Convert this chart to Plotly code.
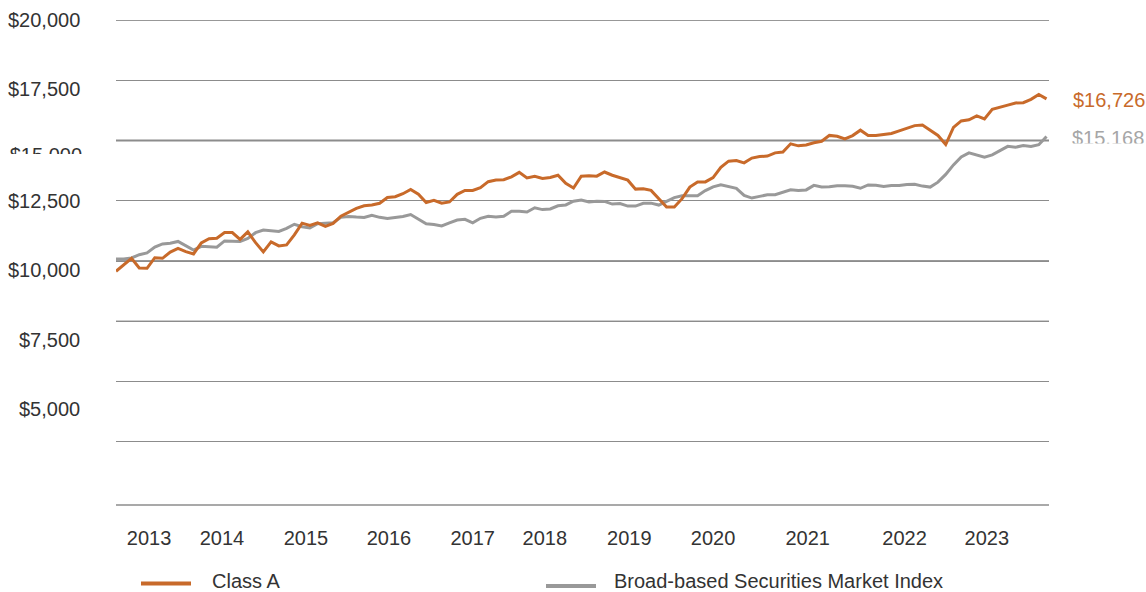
import plotly.graph_objects as go

# ---------------- data ----------------
months = list(range(121))  # monthly observations, first to last

class_a = [
    9575, 9846, 10112, 9708, 9696, 10137, 10112, 10371, 10521, 10387,
    10292, 10750, 10925, 10946, 11179, 11179, 10896, 11208, 10762, 10375,
    10792, 10625, 10667, 11083, 11571, 11479, 11583, 11437, 11562, 11862,
    12042, 12187, 12292, 12321, 12396, 12633, 12667, 12792, 12971, 12771,
    12425, 12521, 12396, 12450, 12767, 12929, 12929, 13046, 13292, 13358,
    13371, 13492, 13679, 13446, 13512, 13421, 13467, 13558, 13225, 13029,
    13521, 13542, 13521, 13692, 13558, 13458, 13354, 12983, 13000, 12929,
    12571, 12237, 12237, 12587, 13067, 13279, 13283, 13458, 13888, 14142,
    14167, 14071, 14271, 14333, 14354, 14487, 14525, 14862, 14779, 14812,
    14904, 14967, 15212, 15175, 15067, 15204, 15429, 15208, 15204, 15233,
    15292, 15400, 15508, 15617, 15646, 15417, 15208, 14833, 15542, 15812,
    15862, 16021, 15896, 16292, 16367, 16467, 16558, 16571, 16708, 16908,
    16726,
]

market_index = [
    10083, 10083, 10125, 10262, 10333, 10575, 10708, 10733, 10812, 10646,
    10450, 10608, 10587, 10571, 10833, 10817, 10808, 10933, 11175, 11283,
    11267, 11229, 11354, 11525, 11425, 11375, 11550, 11583, 11587, 11812,
    11846, 11821, 11804, 11896, 11812, 11762, 11800, 11846, 11929, 11750,
    11542, 11517, 11458, 11583, 11700, 11729, 11583, 11771, 11858, 11825,
    11858, 12062, 12067, 12033, 12208, 12133, 12158, 12292, 12325, 12479,
    12529, 12450, 12483, 12471, 12362, 12383, 12279, 12279, 12396, 12400,
    12321, 12471, 12629, 12708, 12708, 12708, 12921, 13079, 13158, 13096,
    13017, 12721, 12612, 12683, 12750, 12750, 12854, 12954, 12929, 12950,
    13137, 13071, 13079, 13125, 13125, 13100, 13017, 13154, 13146, 13092,
    13137, 13137, 13175, 13183, 13108, 13067, 13271, 13592, 13987, 14317,
    14487, 14404, 14312, 14404, 14575, 14758, 14721, 14792, 14750, 14825,
    15168,
]

year_labels = ["2013", "2014", "2015", "2016", "2017", "2018",
               "2019", "2020", "2021", "2022", "2023"]
year_tick_pos = [4.26, 13.67, 24.5, 35.2, 46.0, 55.3, 66.2, 77.0, 89.2, 101.7, 112.3]

grid_values = [2500, 5000, 7500, 10000, 12500, 15000, 17500, 20000]
y_label_text = ["$20,000", "$17,500", "$12,500", "$10,000", "$7,500", "$5,000"]
y_label_px = [20, 89, 201, 270, 340, 409]

series_names = ["Class A", "Broad-based Securities Market Index"]

# ---------------- styling helpers ----------------
W, H = 1146, 592
FONT = "Liberation Sans, Arial, sans-serif"
TXT = "#333333"
ORANGE = "#C86A2A"
GRAY = "#999999"
GRID = "#8c8c8c"


def pxx(p):
    return p / W


def pxy(p):
    return 1 - p / H


fig = go.Figure()

fig.add_trace(go.Scatter(
    x=months, y=market_index, mode="lines", name=series_names[1],
    line=dict(color=GRAY, width=3), showlegend=False, hoverinfo="skip"))
fig.add_trace(go.Scatter(
    x=months, y=class_a, mode="lines", name=series_names[0],
    line=dict(color=ORANGE, width=3), showlegend=False, hoverinfo="skip"))

# clipped "$15,000" axis label (partly hidden in the reference)
fig.add_trace(go.Scatter(
    x=[82 / 90], y=[(154 - 157) / 24], mode="text", text=["$15,000"],
    textposition="middle left", cliponaxis=True,
    textfont=dict(family=FONT, size=20, color=TXT),
    xaxis="x2", yaxis="y2", showlegend=False, hoverinfo="skip"))

# clipped end label for the index
fig.add_trace(go.Scatter(
    x=[12 / 86], y=[(143.5 - 140) / 23.5], mode="text",
    text=[f"${market_index[-1]:,}"],
    textposition="middle right", cliponaxis=True,
    textfont=dict(family=FONT, size=20, color="#a6a6a6"),
    xaxis="x3", yaxis="y3", showlegend=False, hoverinfo="skip"))

annotations = []
for t, p in zip(y_label_text, y_label_px):
    annotations.append(dict(
        x=pxx(82), y=pxy(p), xref="paper", yref="paper", text=t,
        showarrow=False, xanchor="right", yanchor="middle",
        font=dict(family=FONT, size=20, color=TXT)))

annotations.append(dict(
    x=pxx(1071), y=pxy(100), xref="paper", yref="paper",
    text=f"${class_a[-1]:,}", showarrow=False, xanchor="left", yanchor="middle",
    font=dict(family=FONT, size=20, color=ORANGE)))

# legend (drawn manually to match the layout)
annotations.append(dict(
    x=pxx(210), y=pxy(581), xref="paper", yref="paper", text=series_names[0],
    showarrow=False, xanchor="left", yanchor="middle",
    font=dict(family=FONT, size=20, color=TXT)))
annotations.append(dict(
    x=pxx(612), y=pxy(581), xref="paper", yref="paper", text=series_names[1],
    showarrow=False, xanchor="left", yanchor="middle",
    font=dict(family=FONT, size=20, color=TXT)))

shapes = [
    dict(type="line", xref="paper", yref="paper", x0=pxx(141), x1=pxx(191),
         y0=pxy(583.5), y1=pxy(583.5), line=dict(color=ORANGE, width=4)),
    dict(type="line", xref="paper", yref="paper", x0=pxx(546), x1=pxx(596),
         y0=pxy(586), y1=pxy(586), line=dict(color=GRAY, width=4)),
    # bottom baseline
    dict(type="line", xref="paper", yref="paper", x0=pxx(116), x1=pxx(1049),
         y0=pxy(505), y1=pxy(505), line=dict(color=GRID, width=1.3), layer="below"),
]
for v, c, w in [(20000, "#333333", 1), (10000, "#333333", 1),
                (7500, "#333333", 1), (15000, GRID, 2)]:
    shapes.append(dict(type="line", xref="paper", yref="y", x0=pxx(116), x1=pxx(1049),
                       y0=v, y1=v, line=dict(color=c, width=w), layer="below"))

fig.update_layout(
    width=W, height=H,
    margin=dict(l=0, r=0, t=0, b=0),
    paper_bgcolor="white", plot_bgcolor="white",
    showlegend=False,
    font=dict(family=FONT, size=20, color=TXT),
    xaxis=dict(domain=[pxx(116), pxx(1049)], range=[0, 120.32],
               tickmode="array", tickvals=year_tick_pos, ticktext=year_labels,
               showgrid=False, zeroline=False, showline=False, ticks="",
               ticklabelstandoff=22,
               tickfont=dict(family=FONT, size=20, color=TXT)),
    yaxis=dict(domain=[pxy(502), pxy(20)], range=[0, 20000],
               tickmode="array", tickvals=grid_values, showticklabels=False,
               showgrid=True, gridcolor=GRID, gridwidth=1,
               zeroline=False, showline=False, ticks=""),
    xaxis2=dict(domain=[0, pxx(90)], range=[0, 1], visible=False, anchor="y2"),
    yaxis2=dict(domain=[pxy(154), pxy(130)], range=[0, 1], visible=False, anchor="x2"),
    xaxis3=dict(domain=[pxx(1060), 1], range=[0, 1], visible=False, anchor="y3"),
    yaxis3=dict(domain=[pxy(143.5), pxy(120)], range=[0, 1], visible=False, anchor="x3"),
    annotations=annotations,
    shapes=shapes,
)

fig.write_html(
    "out.html",
    config={"displayModeBar": False},
    post_script="document.body.style.margin='0px';document.body.style.overflow='hidden';",
)
